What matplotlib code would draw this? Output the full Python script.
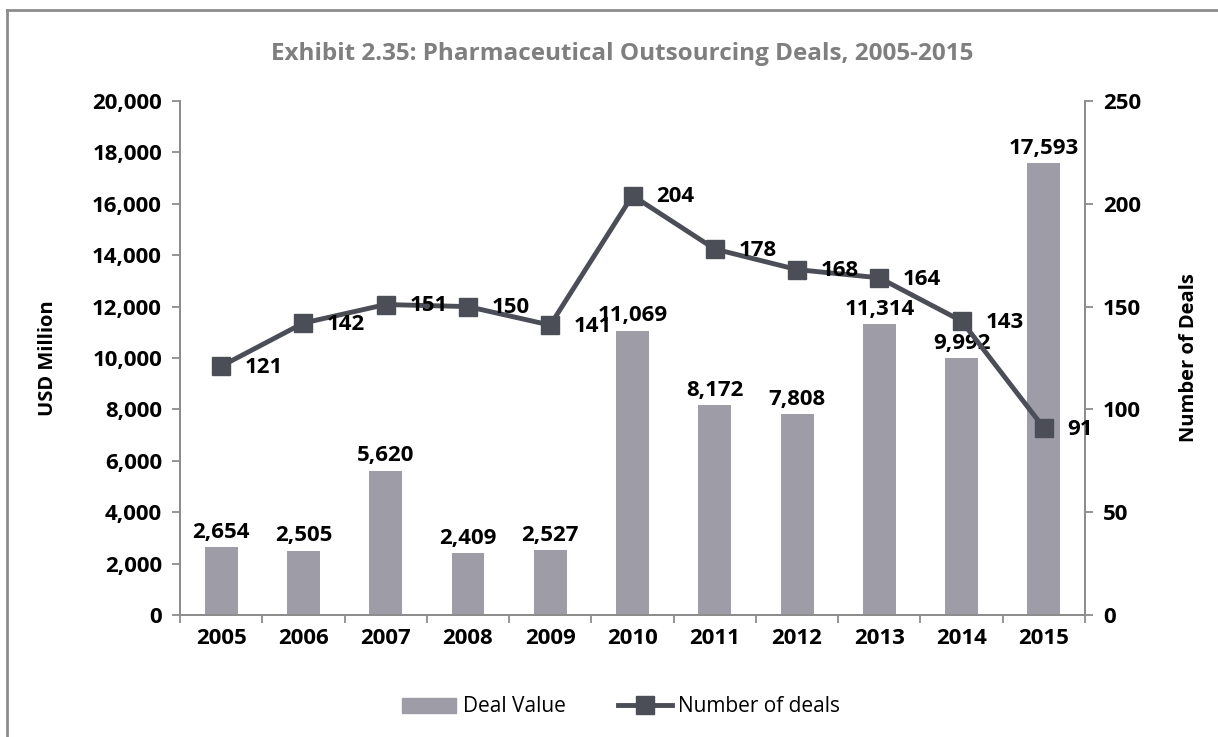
# -*- coding: utf-8 -*-
"""
pharma outsourcing deals: bars (value) + line (deal count) on twin axes
"""
import numpy as np
import matplotlib
matplotlib.use('Agg')
import matplotlib.pyplot as plt
from matplotlib.lines import Line2D
from matplotlib.ticker import FuncFormatter, FixedLocator

plt.rcParams['font.family'] = ['Open Sans', 'DejaVu Sans']

years = ['2005', '2006', '2007', '2008', '2009', '2010',
         '2011', '2012', '2013', '2014', '2015']
deal_value = [2654, 2505, 5620, 2409, 2527, 11069, 8172, 7808, 11314, 9992, 17593]
num_deals = [121, 142, 151, 150, 141, 204, 178, 168, 164, 143, 91]

bar_color = '#9e9da7'
line_color = '#4b4d57'
axis_color = '#8c8c8c'
fs = 16

fig = plt.figure(figsize=(12.18, 7.37), dpi=100)
ax = fig.add_axes([180/1218, 1-615/737, 905/1218, 514/737])
ax2 = ax.twinx()

x = np.arange(len(years))
ax.bar(x, deal_value, width=0.4, color=bar_color, zorder=2)
ax.set_xlim(-0.5, len(years) - 0.5)
ax.set_ylim(0, 20000)
ax.set_yticks(np.arange(0, 20001, 2000))
ax.yaxis.set_major_formatter(FuncFormatter(lambda v, p: '{:,.0f}'.format(v)))

for xi, v in zip(x, deal_value):
    ax.annotate('{:,}'.format(v), (xi, v), xytext=(0, 3), textcoords='offset points',
                ha='center', va='bottom', fontsize=fs, fontweight='bold', zorder=5)

ax2.plot(x, num_deals, color=line_color, lw=3.5, marker='s', markersize=13, zorder=3)
ax2.set_ylim(0, 250)
ax2.set_yticks(np.arange(0, 251, 50))
for xi, v in zip(x, num_deals):
    ax2.annotate(str(v), (xi, v), xytext=(17, -1), textcoords='offset points',
                 ha='left', va='center', fontsize=fs, fontweight='bold', zorder=5)

# axes styling
for a in (ax, ax2):
    a.spines['top'].set_visible(False)
    for s in ('left', 'right', 'bottom'):
        a.spines[s].set_color(axis_color)
        a.spines[s].set_linewidth(1.3)
ax.set_xticks(x)
ax.set_xticklabels(years, fontsize=fs, fontweight='bold')
ax.tick_params(axis='x', length=0, pad=9)
ax.xaxis.set_minor_locator(FixedLocator(np.arange(-0.5, len(years), 1)))
ax.tick_params(axis='x', which='minor', length=6, color=axis_color, width=1.3)
ax.tick_params(axis='y', length=6, color=axis_color, width=1.3, labelsize=fs, pad=7)
ax2.tick_params(axis='y', length=6, color=axis_color, width=1.3, labelsize=fs, pad=7)
for lbl in ax.get_yticklabels() + ax2.get_yticklabels():
    lbl.set_fontweight('bold')

ax.set_ylabel('USD Million', fontsize=14.5, fontweight='bold')
ax2.set_ylabel('Number of Deals', fontsize=14.5, fontweight='bold')
ax.yaxis.set_label_coords((58 - 180) / 905, 0.5)
ax2.yaxis.set_label_coords((1179 - 180) / 905, 0.5)

fig.text(0.511, 1-54/737, 'Exhibit 2.35: Pharmaceutical Outsourcing Deals, 2005-2015',
         ha='center', va='center', fontsize=17.5, fontweight='bold', color='#7f7f7f')

handles = [plt.Rectangle((0, 0), 1, 1, color=bar_color),
           Line2D([], [], color=line_color, lw=3.5, marker='s', markersize=13)]
fig.legend(handles, ['Deal Value', 'Number of deals'], loc='center',
           bbox_to_anchor=(0.51, 1-707/737), ncol=2, frameon=False, fontsize=15,
           handlelength=2.6, columnspacing=2.5, handletextpad=0.3)

# chart border (left and top)
fig.add_artist(Line2D([7/1218, 7/1218], [0, 1-10/737], color='#8c8c8c', lw=2,
                      transform=fig.transFigure))
fig.add_artist(Line2D([7/1218, 1], [1-10/737, 1-10/737], color='#8c8c8c', lw=2,
                      transform=fig.transFigure))

fig.savefig('out.png', dpi=100)
